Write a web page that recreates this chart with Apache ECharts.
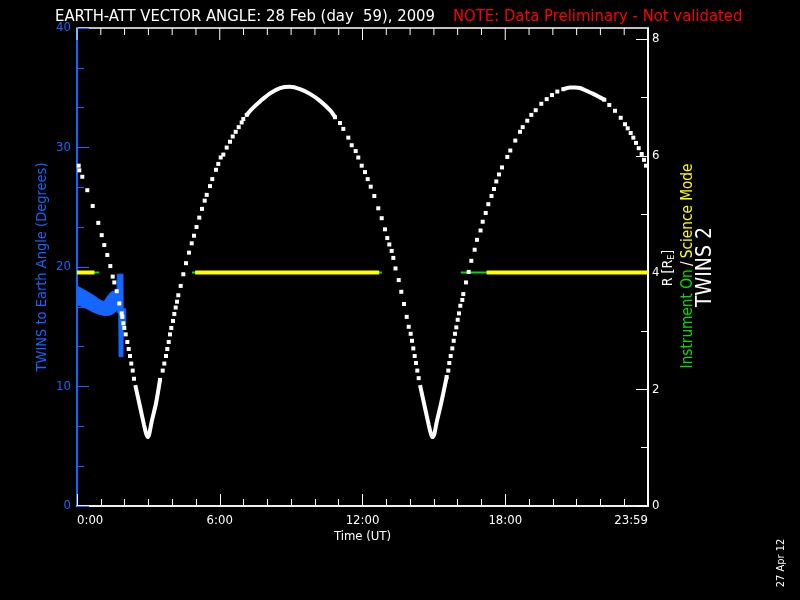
<!DOCTYPE html>
<html>
<head>
<meta charset="utf-8">
<title>TWINS 2 Earth-att vector angle</title>
<script src="https://cdn.jsdelivr.net/npm/echarts@6/dist/echarts.min.js"></script>
<style>
  html, body { margin: 0; padding: 0; background: #000; }
  #chart { width: 800px; height: 600px; }
</style>
</head>
<body>
<div id="chart"></div>
<script>
const FONT = '"DejaVu Sans Condensed", "Liberation Sans Narrow", "DejaVu Sans", sans-serif';
const BLUE = '#1466ff';
const GREEN = '#00e000';
const YELLOW = '#ffff00';

// time in minutes of the day
const xTickLabels = ['0:00', '6:00', '12:00', '18:00', '23:59'];
const topTickTimes = [0, 60, 120, 180, 240, 300, 360, 420, 480, 540, 600, 660, 720,
  780, 840, 900, 960, 1020, 1080, 1140, 1200, 1260, 1320, 1380, 1440];

// TWINS to Earth angle (degrees), band between low and high
const angleTimes = [0, 12, 25, 43, 55, 68, 78, 86, 95, 101, 101.7, 105.5, 106, 116, 116.3, 122.5, 123];
const angleLow   = [16.85, 16.7, 16.5, 16.2, 16.05, 15.95, 15.95, 16.0, 16.2, 16.4, 16.2, 16.1, 12.5, 12.5, 15.1, 15.1, 15.6];
const angleHigh  = [18.4, 18.2, 17.95, 17.6, 17.3, 17.1, 17.6, 17.9, 18.0, 18.0, 19.4, 19.4, 19.4, 19.4, 16.5, 16.5, 15.9];

// R (Earth radii): the separate dots
const rTimes = [
  4.3, 5.8, 13.4, 26.0, 39.6, 53.7, 62.3, 68.8, 76.4, 84.0, 90.0, 94.1, 100.1, 106.7, 112.7, 114.2,
  116.8, 119.3, 122.8, 126.9, 130.4, 133.7, 136.9, 140.5, 143.7,
  209.3, 216.1, 220.2, 224.4, 227.7, 231.3, 234.5, 237.8, 242.1, 245.4, 248.9, 252.2, 255.5, 261.5,
  268.1, 274.9, 282.5, 289.3, 295.1, 301.4, 308.4, 315.2, 322.0, 327.1, 335.4, 341.2, 350.5, 356.3,
  362.4, 369.0, 377.5, 385.8, 392.7, 400.2, 407.8, 415.3, 419.4, 428.0,
  650.7, 663.3, 671.6, 684.2, 692.8, 702.8, 709.4, 718.0, 726.3, 733.1, 740.7, 749.8, 759.8, 768.4,
  776.7, 782.5, 787.6, 793.6, 797.7, 803.2, 811.3, 817.8, 824.6, 831.5, 836.5, 841.5, 844.8, 848.1,
  851.6, 854.9, 858.2, 861.7,
  932.3, 936.4, 938.9, 942.4, 946.5, 950.0, 953.3, 956.6, 960.1, 963.4, 966.7, 971.7, 974.2, 981.0,
  987.8, 994.4, 1002.9, 1008.8, 1017.6, 1023.1, 1030.7, 1037.3, 1045.3, 1051.6, 1057.4, 1064.2,
  1071.8, 1085.2, 1092.7, 1105.3, 1117.2, 1124.0, 1135.6, 1145.7, 1156.8, 1170.9, 1184.5, 1197.9,
  1211.3, 1226.4,
  1329.8, 1342.4, 1356.8, 1371.2, 1382.0, 1388.8, 1396.4, 1403.0, 1409.8, 1416.6, 1424.1, 1429.9, 1435.0
];
const rValues = [
  5.83, 5.75, 5.64, 5.41, 5.14, 4.85, 4.64, 4.47, 4.30, 4.11, 3.93, 3.83, 3.68, 3.47, 3.30, 3.24,
  3.13, 3.05, 2.94, 2.81, 2.69, 2.57, 2.44, 2.32, 2.18,
  2.16, 2.32, 2.44, 2.57, 2.69, 2.81, 2.94, 3.05, 3.17, 3.29, 3.40, 3.50, 3.61, 3.77,
  3.97, 4.16, 4.34, 4.50, 4.63, 4.78, 4.94, 5.09, 5.23, 5.33, 5.48, 5.60, 5.76, 5.86,
  5.97, 6.02, 6.14, 6.24, 6.33, 6.41, 6.49, 6.57, 6.63, 6.70,
  6.66, 6.56, 6.46, 6.31, 6.18, 6.08, 5.97, 5.83, 5.72, 5.60, 5.47, 5.31, 5.10, 4.93,
  4.74, 4.59, 4.48, 4.37, 4.25, 4.07, 3.87, 3.67, 3.46, 3.24, 3.07, 2.95, 2.83, 2.70,
  2.57, 2.45, 2.32, 2.19,
  2.21, 2.32, 2.45, 2.57, 2.70, 2.83, 2.95, 3.06, 3.19, 3.30, 3.43, 3.53, 3.63, 3.83,
  4.01, 4.20, 4.39, 4.56, 4.72, 4.87, 5.02, 5.17, 5.31, 5.43, 5.56, 5.68,
  5.80, 5.98, 6.09, 6.26, 6.41, 6.49, 6.60, 6.70, 6.78, 6.89, 6.97, 7.04,
  7.10, 7.14,
  6.96, 6.87, 6.77, 6.65, 6.54, 6.47, 6.39, 6.31, 6.22, 6.13, 6.03, 5.93, 5.83
];

// R where the dots run together (perigees and apogees)
const perigee1Times = [147, 159, 169, 174, 178.4, 181.6, 184.2, 189.2, 199.3, 209.3];
const perigee1R     = [2.07, 1.70, 1.39, 1.25, 1.18, 1.22, 1.30, 1.47, 1.76, 2.16];
const apogee1Times  = [428.0, 440.6, 461.5, 486.7, 511.9, 537.2, 562.4, 587.6, 612.8, 638.0, 650.7];
const apogee1R      = [6.70, 6.80, 6.93, 7.07, 7.16, 7.18, 7.14, 7.06, 6.94, 6.78, 6.66];
const perigee2Times = [865, 877, 887, 892, 896.4, 900.6, 903.2, 908.2, 918.3, 932.3];
const perigee2R     = [2.07, 1.70, 1.39, 1.25, 1.18, 1.22, 1.30, 1.47, 1.76, 2.21];
const apogee2Times  = [1226.4, 1243.3, 1255.9, 1268.5, 1285.4, 1302.0, 1318.9, 1329.8];
const apogee2R      = [7.14, 7.17, 7.17, 7.16, 7.11, 7.06, 7.00, 6.96];

// instrument on / science mode intervals (minutes)
const onStart      = [0, 290, 968];
const onEnd        = [56, 769, 1440];
const scienceStart = [0, 298, 1033];
const scienceEnd   = [44, 762, 1440];
const modeLevel = 4;

function pairs(xs, ys) {
  return xs.map((x, i) => [x, ys[i]]);
}

// join several runs into one line, broken by nulls
function runs(list) {
  const out = [];
  list.forEach(([xs, ys]) => {
    out.push(...pairs(xs, ys), [xs[xs.length - 1], null]);
  });
  return out;
}

function segments(starts, ends, level) {
  const out = [];
  starts.forEach((s, i) => {
    out.push([s, level], [ends[i], level], [ends[i], null]);
  });
  return out;
}

function renderAngleBand(params, api) {
  const pts = [];
  for (let i = 0; i < angleTimes.length; i++) pts.push(api.coord([angleTimes[i], angleHigh[i]]));
  for (let i = angleTimes.length - 1; i >= 0; i--) pts.push(api.coord([angleTimes[i], angleLow[i]]));
  return {
    type: 'polygon',
    shape: { points: pts },
    style: { fill: BLUE, stroke: BLUE, lineWidth: 1 }
  };
}

// tick marks hanging down from the top edge
function renderTopTick(params, api) {
  const t = api.value(0);
  const p = api.coord([t, 40]);
  const len = t % 360 === 0 ? 12 : 7;
  return {
    type: 'line',
    shape: { x1: p[0], y1: p[1], x2: p[0], y2: p[1] + len },
    style: { stroke: '#fff', lineWidth: 1 }
  };
}

// an axis that only exists so the visible one has a zero to sit on
function helperAxis(gridIndex) {
  return {
    type: 'value', gridIndex: gridIndex, min: 0, max: 1,
    axisLine: { show: false }, axisTick: { show: false },
    axisLabel: { show: false }, splitLine: { show: false }
  };
}

const bottomAxis = {
  type: 'value',
  gridIndex: 0,
  position: 'bottom',
  min: 0,
  max: 1440,
  interval: 360,
  name: 'Time (UT)',
  nameLocation: 'middle',
  nameGap: 24,
  nameMoveOverlap: false,
  nameTextStyle: { color: '#fff', fontFamily: FONT, fontSize: 13 },
  axisLine: { show: true, lineStyle: { color: '#fff', width: 1.5 } },
  axisTick: { show: true, inside: true, length: 12, lineStyle: { color: '#fff', width: 1 } },
  minorTick: { show: true, splitNumber: 6, length: 7, lineStyle: { color: '#fff', width: 1 } },
  splitLine: { show: false },
  axisLabel: {
    color: '#fff',
    fontFamily: FONT,
    fontSize: 13,
    margin: 8,
    alignMinLabel: 'left',
    alignMaxLabel: 'right',
    formatter: v => xTickLabels[Math.round(v / 360)]
  }
};

const chart = echarts.init(document.getElementById('chart'));

chart.setOption({
  backgroundColor: '#000',
  animation: false,
  grid: [
    // main plot, angle; its border gives the top edge
    { left: 77, right: 152, top: 28, bottom: 94, show: true, borderColor: '#fff', borderWidth: 1.5, backgroundColor: 'transparent' },
    { left: 77, right: 152, top: 39, bottom: 94 },   // R, 0..8
    { left: 648, width: 100, top: 39, bottom: 94 }   // strip right: R ticks and labels
  ],
  xAxis: [
    bottomAxis,
    { type: 'value', gridIndex: 1, min: 0, max: 1440, show: false },
    helperAxis(2)
  ],
  yAxis: [
    {
      type: 'value',
      gridIndex: 0,
      position: 'left',
      min: 0,
      max: 40,
      interval: 10,
      name: 'TWINS to Earth Angle (Degrees)',
      nameLocation: 'middle',
      nameRotate: 90,
      nameGap: 27,
      nameMoveOverlap: false,
      nameTextStyle: { color: BLUE, fontFamily: FONT, fontSize: 14.5 },
      axisLine: { show: true, lineStyle: { color: BLUE, width: 2 } },
      axisTick: { show: true, inside: true, length: 12, lineStyle: { color: BLUE, width: 1 } },
      minorTick: { show: true, splitNumber: 3, length: 7, lineStyle: { color: BLUE, width: 1 } },
      splitLine: { show: false },
      axisLabel: { color: BLUE, fontFamily: FONT, fontSize: 13, margin: 6 }
    },
    {
      type: 'value',
      gridIndex: 0,
      position: 'right',
      min: 0,
      max: 1,
      axisLine: { show: true, lineStyle: { color: '#fff', width: 1.5 } },
      axisTick: { show: false },
      axisLabel: { show: false },
      splitLine: { show: false }
    },
    { type: 'value', gridIndex: 1, min: 0, max: 8, show: false },
    {
      type: 'value',
      gridIndex: 2,
      position: 'left',
      min: 0,
      max: 8,
      interval: 2,
      axisLine: { show: true, lineStyle: { color: '#fff', width: 1.5 } },
      axisTick: { show: true, inside: false, length: 12, lineStyle: { color: '#fff', width: 1 } },
      minorTick: { show: true, splitNumber: 2, length: 7, lineStyle: { color: '#fff', width: 1 } },
      splitLine: { show: false },
      axisLabel: { inside: true, color: '#fff', fontFamily: FONT, fontSize: 13, margin: 4 }
    }
  ],
  series: [
    {
      name: 'Top ticks',
      type: 'custom',
      xAxisIndex: 0,
      yAxisIndex: 0,
      data: topTickTimes.map(t => [t, 40]),
      renderItem: renderTopTick,
      silent: true,
      z: 2
    },
    {
      name: 'Angle',
      type: 'custom',
      xAxisIndex: 0,
      yAxisIndex: 0,
      data: [[0, 0]],
      renderItem: renderAngleBand,
      z: 2
    },
    {
      name: 'Instrument On',
      type: 'line',
      xAxisIndex: 1,
      yAxisIndex: 2,
      data: segments(onStart, onEnd, modeLevel),
      symbol: 'none',
      lineStyle: { color: GREEN, width: 2 },
      z: 3
    },
    {
      name: 'Science Mode',
      type: 'line',
      xAxisIndex: 1,
      yAxisIndex: 2,
      data: segments(scienceStart, scienceEnd, modeLevel),
      symbol: 'none',
      lineStyle: { color: YELLOW, width: 4 },
      z: 4
    },
    {
      name: 'R arcs',
      type: 'line',
      xAxisIndex: 1,
      yAxisIndex: 2,
      data: runs([
        [perigee1Times, perigee1R],
        [apogee1Times, apogee1R],
        [perigee2Times, perigee2R],
        [apogee2Times, apogee2R]
      ]),
      symbol: 'none',
      smooth: 0.3,
      lineStyle: { color: '#fff', width: 4 },
      z: 5
    },
    {
      name: 'R',
      type: 'scatter',
      xAxisIndex: 1,
      yAxisIndex: 2,
      data: pairs(rTimes, rValues),
      symbol: 'rect',
      symbolSize: 4,
      itemStyle: { color: '#fff', opacity: 1 },
      z: 6
    }
  ],
  graphic: [
    {
      type: 'text', x: 55, y: 17,
      style: { text: 'EARTH-ATT VECTOR ANGLE: 28 Feb (day  59), 2009', fill: '#fff', font: '16.5px ' + FONT, verticalAlign: 'middle' }
    },
    {
      type: 'text', x: 453, y: 17,
      style: { text: 'NOTE: Data Preliminary - Not validated', fill: '#ff0000', font: '16.5px ' + FONT, verticalAlign: 'middle' }
    },
    {
      type: 'text', x: 668, y: 268, rotation: Math.PI / 2,
      style: {
        text: '{a|R [R}{s|E}{a|]}',
        align: 'center', verticalAlign: 'middle',
        rich: {
          a: { fill: '#fff', fontFamily: FONT, fontSize: 14, lineHeight: 16 },
          s: { fill: '#fff', fontFamily: FONT, fontSize: 9, lineHeight: 16, verticalAlign: 'bottom' }
        }
      }
    },
    {
      type: 'text', x: 688, y: 266, rotation: Math.PI / 2,
      style: {
        text: '{g|Instrument On} {w|/} {y|Science Mode}',
        align: 'center', verticalAlign: 'middle',
        rich: {
          g: { fill: GREEN, fontFamily: FONT, fontSize: 15.2 },
          w: { fill: '#fff', fontFamily: FONT, fontSize: 15.2 },
          y: { fill: YELLOW, fontFamily: FONT, fontSize: 15.2 }
        }
      }
    },
    {
      type: 'text', x: 706, y: 267, rotation: Math.PI / 2,
      style: { text: 'TWINS 2', fill: '#fff', font: '21px ' + FONT, align: 'center', verticalAlign: 'middle' }
    },
    {
      type: 'text', x: 781, y: 563, rotation: Math.PI / 2,
      style: { text: '27 Apr 12', fill: '#fff', font: '11px ' + FONT, align: 'center', verticalAlign: 'middle' }
    }
  ]
});
</script>
</body>
</html>
